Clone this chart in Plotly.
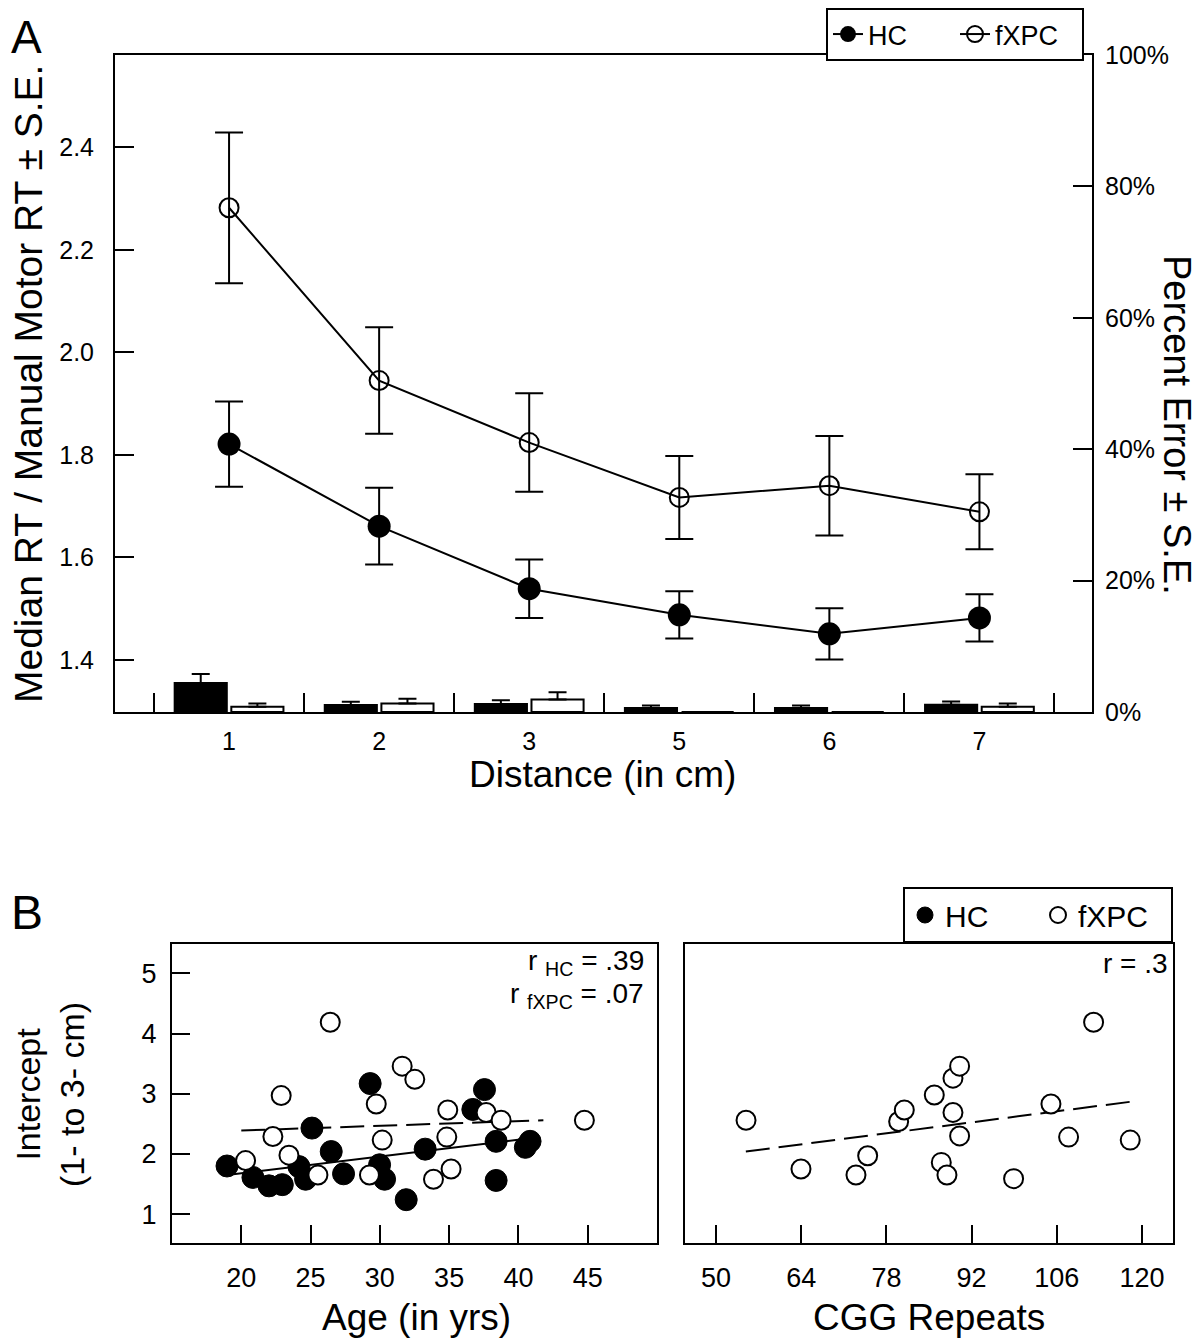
import plotly.graph_objects as go

# ---- panel A: RT ratio by distance (lines, left axis) and % error (bars, right axis)
distance = ["1", "2", "3", "5", "6", "7"]
hc_rt = [1.821, 1.661, 1.539, 1.488, 1.451, 1.482]
hc_rt_se = [0.083, 0.075, 0.057, 0.046, 0.050, 0.046]
fxpc_rt = [2.282, 1.945, 1.824, 1.717, 1.740, 1.689]
fxpc_rt_se = [0.147, 0.104, 0.096, 0.081, 0.097, 0.073]
hc_err = [4.4, 1.07, 1.2, 0.6, 0.6, 1.1]
hc_err_se = [1.4, 0.5, 0.6, 0.4, 0.4, 0.5]
fxpc_err = [0.8, 1.3, 1.9, 0, 0, 0.8]
fxpc_err_se = [0.5, 0.7, 1.1, 0, 0, 0.5]
pct_ticks = [0, 20, 40, 60, 80, 100]
pct_labels = ["0%", "20%", "40%", "60%", "80%", "100%"]

# ---- panel B: intercept (1- to 3- cm) vs age and vs CGG repeats
hc_age = [18.97, 20.84, 22.0, 22.96, 24.16, 24.64, 25.10, 26.49, 27.38, 29.30,
          29.98, 30.34, 31.90, 33.27, 36.71, 37.55, 38.39, 38.39, 40.50, 40.84]
hc_icpt = [1.80, 1.61, 1.47, 1.49, 1.79, 1.58, 2.43, 2.04, 1.67, 3.17,
           1.82, 1.58, 1.24, 2.08, 2.74, 3.07, 2.21, 1.56, 2.11, 2.21]
fx_age = [20.31, 22.28, 22.88, 23.44, 25.53, 26.42, 29.25, 29.74, 30.17,
          31.61, 32.52, 33.87, 34.83, 34.90, 35.14, 37.67, 38.75, 44.76]
fx_icpt = [1.89, 2.29, 2.97, 1.98, 1.65, 4.19, 1.65, 2.83, 2.23,
           3.46, 3.24, 1.58, 2.28, 2.73, 1.75, 2.69, 2.56, 2.56]
cgg = [54.93, 63.96, 73.0, 74.92, 80.01, 80.94, 85.87, 87.02, 87.95,
       88.94, 88.94, 90.03, 90.03, 98.9, 105.04, 107.94, 112.05, 118.07]
cgg_icpt = [2.56, 1.75, 1.65, 1.97, 2.54, 2.73, 2.98, 1.86, 1.65,
            3.26, 2.69, 3.46, 2.30, 1.59, 2.83, 2.28, 4.19, 2.23]
# fit lines, end points
fit_hc_age = [18.97, 40.84]
fit_hc = [1.65, 2.26]
fit_fx_age = [20.0, 41.8]
fit_fx = [2.39, 2.56]
fit_cgg = [54.9, 118.3]
fit_cgg_y = [2.04, 2.87]

# page body has an 8px margin, so the figure is a bit smaller than the window
OFF = 8
W, H = 1200 - OFF, 1340 - OFF
FONT = "Liberation Sans, Arial, sans-serif"


def px(x):
    return (x - OFF) / W


def py(y):
    return 1 - (y - OFF) / H


fig = go.Figure()

# bars (right axis)
fig.add_trace(go.Bar(x=distance, y=hc_err, xaxis="x", yaxis="y2", offsetgroup="hc",
                     marker=dict(color="black", line=dict(color="black", width=2)),
                     error_y=dict(type="data", array=hc_err_se, arrayminus=[0] * 6, symmetric=False,
                                  color="black", thickness=2, width=9),
                     showlegend=False))
fig.add_trace(go.Bar(x=distance, y=fxpc_err, xaxis="x", yaxis="y2", offsetgroup="fx",
                     marker=dict(color="white", line=dict(color="black", width=2)),
                     error_y=dict(type="data", array=fxpc_err_se, arrayminus=[0] * 6, symmetric=False,
                                  color="black", thickness=2, width=9),
                     showlegend=False))

# lines (left axis)
fig.add_trace(go.Scatter(x=distance, y=hc_rt, xaxis="x", yaxis="y", mode="lines+markers", name="HC",
                         line=dict(color="black", width=2),
                         marker=dict(color="black", size=23, symbol="circle"),
                         error_y=dict(type="data", array=hc_rt_se, color="black", thickness=2, width=14),
                         legend="legend"))
fig.add_trace(go.Scatter(x=distance, y=fxpc_rt, xaxis="x", yaxis="y", mode="lines+markers", name="fXPC",
                         line=dict(color="black", width=2),
                         marker=dict(color="black", size=19, symbol="circle-open", line=dict(width=2)),
                         error_y=dict(type="data", array=fxpc_rt_se, color="black", thickness=2, width=14),
                         legend="legend"))

# panel B left
fig.add_trace(go.Scatter(x=fit_hc_age, y=fit_hc, xaxis="x3", yaxis="y3", mode="lines",
                         line=dict(color="black", width=2), showlegend=False))
fig.add_trace(go.Scatter(x=fit_fx_age, y=fit_fx, xaxis="x3", yaxis="y3", mode="lines",
                         line=dict(color="black", width=2, dash="24px,9px"), showlegend=False))
fig.add_trace(go.Scatter(x=hc_age, y=hc_icpt, xaxis="x3", yaxis="y3", mode="markers", name="HC",
                         marker=dict(color="black", size=22, line=dict(color="black", width=1)),
                         legend="legend2"))
fig.add_trace(go.Scatter(x=fx_age, y=fx_icpt, xaxis="x3", yaxis="y3", mode="markers", name="fXPC",
                         marker=dict(color="white", size=19, line=dict(color="black", width=2)),
                         legend="legend2"))

# panel B right
fig.add_trace(go.Scatter(x=fit_cgg, y=fit_cgg_y, xaxis="x4", yaxis="y4", mode="lines",
                         line=dict(color="black", width=2, dash="24px,9px"), showlegend=False))
fig.add_trace(go.Scatter(x=cgg, y=cgg_icpt, xaxis="x4", yaxis="y4", mode="markers",
                         marker=dict(color="white", size=19, line=dict(color="black", width=2)),
                         showlegend=False))

axis_common = dict(showline=True, linecolor="black", linewidth=2, ticks="inside", tickwidth=2,
                   tickcolor="black", showgrid=False, zeroline=False,
                   tickfont=dict(family=FONT, size=25, color="black"))
tfB = dict(family=FONT, size=27, color="black")

fig.update_layout(
    width=W, height=H, template="none",
    margin=dict(l=0, r=0, t=0, b=0, autoexpand=False),
    paper_bgcolor="white", plot_bgcolor="white",
    font=dict(family=FONT, color="black"),
    barmode="group", bargap=0.245, bargroupgap=0.08,
    xaxis=dict(axis_common, domain=[px(115), px(1092)], anchor="y", type="category",
               categoryorder="array", categoryarray=distance, range=[-0.76, 5.75],
               tickson="boundaries", ticklen=19, mirror=True, ticklabelstandoff=6),
    yaxis=dict(axis_common, domain=[py(712), py(55)], anchor="x", range=[1.2985, 2.58],
               tickvals=[1.4, 1.6, 1.8, 2.0, 2.2, 2.4], tickformat=".1f", ticklen=19,
               ticklabelstandoff=14),
    yaxis2=dict(axis_common, overlaying="y", side="right", anchor="x", range=[0, 100],
                tickvals=pct_ticks, ticktext=pct_labels, ticklen=19,
                ticklabelstandoff=6),
    xaxis3=dict(axis_common, domain=[px(172), px(657)], anchor="y3", range=[15, 50],
                tickvals=[20, 25, 30, 35, 40, 45], ticklen=18, mirror=True,
                tickfont=tfB, ticklabelstandoff=10),
    yaxis3=dict(axis_common, domain=[py(1243), py(944)], anchor="x3", range=[0.52, 5.49],
                tickvals=[1, 2, 3, 4, 5], ticklen=18, mirror=True,
                tickfont=tfB, ticklabelstandoff=8),
    xaxis4=dict(axis_common, domain=[px(685), px(1173)], anchor="y4", range=[44.9, 125.1],
                tickvals=[50, 64, 78, 92, 106, 120], ticklen=18, mirror=True,
                tickfont=tfB, ticklabelstandoff=10),
    yaxis4=dict(axis_common, domain=[py(1243), py(944)], anchor="x4", range=[0.52, 5.49],
                ticks="", showticklabels=False, mirror=True),
    legend=dict(orientation="h", x=px(1084), xanchor="right", y=1.0, yanchor="top",
                bordercolor="black", borderwidth=2, bgcolor="white", itemwidth=30,
                entrywidth=82, font=dict(family=FONT, size=27, color="black"),
                tracegroupgap=0),
    legend2=dict(orientation="h", x=px(1173), xanchor="right", y=py(887), yanchor="top",
                 bordercolor="black", borderwidth=2, bgcolor="white", itemwidth=30,
                 entrywidth=88, font=dict(family=FONT, size=30, color="black")),
)

ann = [
    dict(text="A", x=px(10), y=py(10), size=46, xa="left", ya="top"),
    dict(text="B", x=px(10), y=py(912), size=48, xa="left"),
    dict(text="Distance (in cm)", x=px(602), y=py(774), size=37),
    dict(text="Median RT / Manual Motor RT ± S.E.", x=px(28), y=py(384), size=39, angle=-90),
    dict(text="Percent Error ± S.E.", x=px(1177), y=py(425), size=38, angle=90),
    dict(text="Intercept<br>(1- to 3- cm)", x=px(50), y=py(1095), size=34, angle=-90),
    dict(text="Age (in yrs)", x=px(416), y=py(1339), size=37, ya="bottom"),
    dict(text="CGG Repeats", x=px(929), y=py(1339), size=37, ya="bottom"),
]
for a in ann:
    fig.add_annotation(text=a["text"], x=a["x"], y=a["y"], xref="paper", yref="paper",
                       showarrow=False, textangle=a.get("angle", 0), xanchor=a.get("xa", "center"),
                       yanchor=a.get("ya", "middle"), borderpad=0,
                       font=dict(family=FONT, size=a["size"], color="black"))

for txt, x, y in [("r <sub>HC</sub> = .39", 645, 962), ("r <sub>fXPC</sub> = .07", 645, 995),
                  ("r = .3", 1169, 963)]:
    fig.add_annotation(text=txt, x=px(x), y=py(y), xref="paper", yref="paper", showarrow=False,
                       xanchor="right", yanchor="middle", borderpad=0,
                       font=dict(family=FONT, size=28, color="black"))

fig.write_html("out.html")
